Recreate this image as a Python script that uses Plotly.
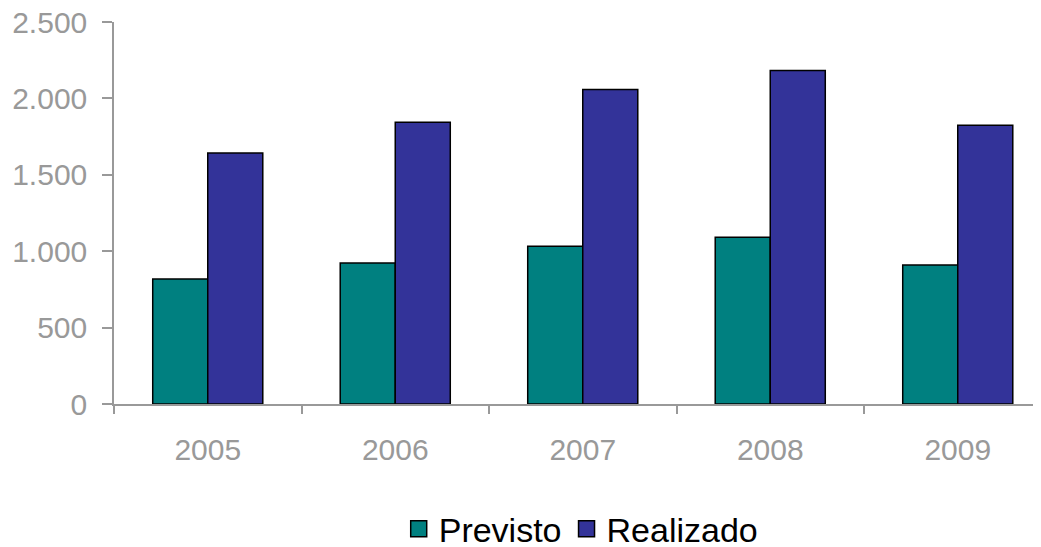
import plotly.graph_objects as go

years = ["2005", "2006", "2007", "2008", "2009"]
previsto = [818, 922, 1032, 1091, 909]
realizado = [1643, 1844, 2058, 2182, 1825]
y_ticks = [0, 500, 1000, 1500, 2000, 2500]
series = [("Previsto", previsto, "#008080"), ("Realizado", realizado, "#333399")]

fig = go.Figure()
for name, vals, col in series:
    fig.add_trace(go.Bar(name=name, x=years, y=vals, showlegend=False,
                         marker=dict(color=col, line=dict(color="black", width=1.5))))
# legend entries with larger square symbols
for name, vals, col in series:
    fig.add_trace(go.Scatter(name=name, x=[years[0]], y=[None], mode="markers",
                             marker=dict(symbol="square", size=16, color=col,
                                         line=dict(color="black", width=1.5)),
                             showlegend=True, hoverinfo="skip"))

fig.update_layout(
    width=1033, height=539,
    margin=dict(l=106, r=0, t=14, b=143),
    paper_bgcolor="white", plot_bgcolor="white",
    barmode="group", bargap=0.413, bargroupgap=0,
    separators=",.",
    font=dict(family="Liberation Sans, Arial, sans-serif"),
    showlegend=True,
    legend=dict(orientation="h", x=0.504, xanchor="center", yref="container",
                y=0.033, yanchor="middle", itemsizing="trace",
                font=dict(size=34, color="black"), traceorder="normal"),
)
fig.update_xaxes(
    type="category", range=[-0.5, 4.444], automargin=False,
    showline=True, linecolor="#999999", linewidth=1.5,
    ticks="outside", tickson="boundaries", ticklen=8, tickcolor="#999999", tickwidth=1.5,
    tickfont=dict(size=30, color="#999999"), ticklabelstandoff=18,
    showgrid=False, zeroline=False,
)
fig.update_yaxes(
    range=[0, 2500], tickvals=y_ticks, tickformat=",d", automargin=False,
    ticklabeloverflow="allow",
    showline=True, linecolor="#999999", linewidth=1.5,
    ticks="outside", ticklen=10, tickcolor="#999999", tickwidth=1.5,
    tickfont=dict(size=30, color="#999999"), ticklabelstandoff=9,
    showgrid=False, zeroline=False,
)
fig.write_html("out.html")
